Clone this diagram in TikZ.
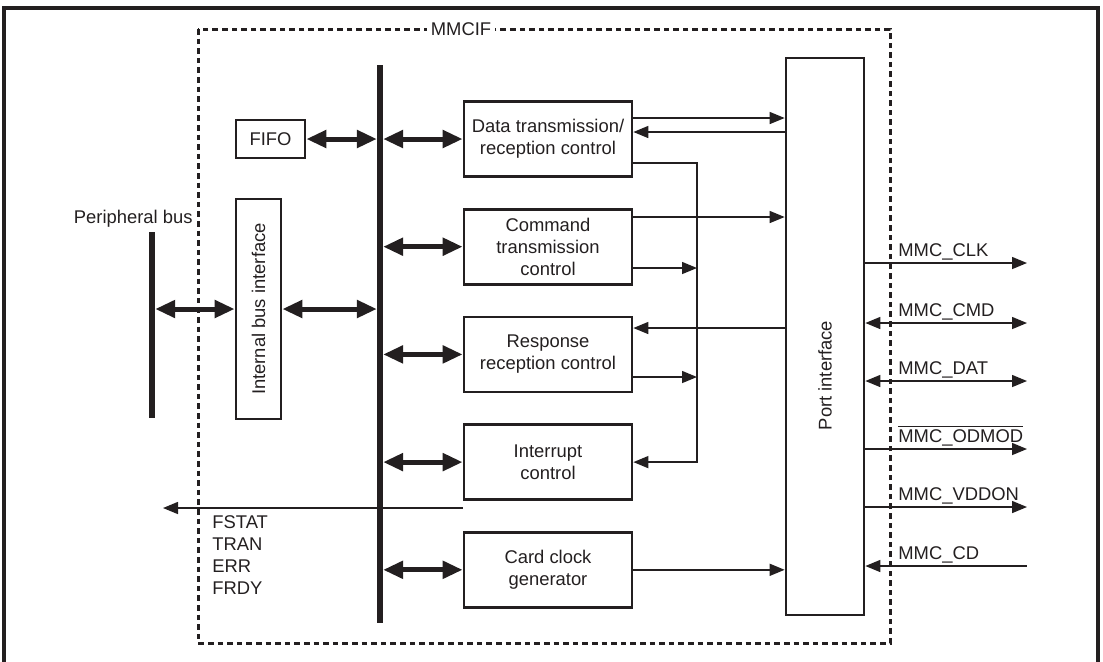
\documentclass[tikz,border=0pt]{standalone}
\usepackage{fontspec}
\setmainfont{Liberation Sans}
\usetikzlibrary{arrows.meta, positioning}
\definecolor{ink}{HTML}{231F20}

\begin{document}
\begin{tikzpicture}[
  x=0.5pt, y=-0.5pt,
  node distance=15pt,
  >={Triangle[length=7.5pt,width=6pt]},
  every node/.style={font=\fontsize{9.2pt}{11pt}\selectfont, text=ink},
  block/.style={rectangle, draw=ink, line width=1.35pt, minimum width=84pt,
    minimum height=37.5pt, align=center, inner sep=0pt},
  busbar/.style={rectangle, fill=ink, inner sep=0pt, minimum width=2.7pt},
  busarrow/.style={draw=ink, line width=2.5pt,
    {Triangle[length=10pt,width=8.5pt]}-{Triangle[length=10pt,width=8.5pt]}},
  sig/.style={draw=ink, line width=0.75pt, ->},
  sigout/.style={sig},
  sigboth/.style={sig, <->},
  sigin/.style={sig, <-},
  siglabel/.style={anchor=base west, inner sep=0pt}
]
  \useasboundingbox (0,0) rectangle (1103,661);
  \draw[ink, line width=1.7pt] (4,680) -- (4,8) -- (1098,8) -- (1098,680);
  \draw[ink, line width=1.5pt, dash pattern=on 2.8pt off 2pt]
    (198,29) rectangle (890,643);
  \node[fill=white, inner sep=2pt] (mmcif) at (461,29) {MMCIF};

  \node[busbar, minimum height=279pt] (ibus) at (380,344) {};
  \node[busbar, minimum height=93pt, minimum width=2.8pt] (pbus) at (152,325) {};
  \node[anchor=base east, inner sep=0pt] (pblabel) at (193,223) {Peripheral bus};

  \node[block, minimum width=34.5pt, minimum height=19pt] (fifo) at (270.5,139) {FIFO};
  \node[block, minimum width=22.5pt, minimum height=110pt] (ibi) at (258.5,309)
    {\rotatebox{90}{Internal bus interface}};

  \node[block] (data) at (548,139) {Data transmission/\\reception control};
  \node[block, below=of data] (cmd) {Command\\transmission\\control};
  \node[block, below=of cmd] (resp) {Response\\reception control};
  \node[block, below=of resp] (intr) {Interrupt\\control};
  \node[block, below=of intr] (card) {Card clock\\generator};

  \node[block, minimum width=39pt, minimum height=278.5pt] (port) at (825,336.5) {};
  \node[rotate=90] (porttxt) at ([yshift=-19.5pt]port.center) {Port interface};

  \draw[busarrow] (pbus.east |- ibi.west) -- (ibi.west);
  \draw[busarrow] (ibi.east) -- (ibus.west |- ibi.east);
  \draw[busarrow] (fifo.east) -- (ibus.west |- fifo.east);
  \foreach \blk in {data, cmd, resp, intr, card}
    \draw[busarrow] (ibus.east |- \blk.west) -- (\blk.west);

  \coordinate (trunk) at (697,300);
  \draw[sig] (data.east |- 0,118) -- (port.west |- 0,118);
  \draw[sig] (port.west |- 0,132) -- (data.east |- 0,132);
  \draw[sig] (data.east |- 0,163) -| (trunk) |- (intr.east);
  \draw[sig] (cmd.east |- 0,217) -- (port.west |- 0,217);
  \draw[sig] (cmd.east |- 0,268) -- (trunk |- 0,268);
  \draw[sig] (port.west |- 0,328) -- (resp.east |- 0,328);
  \draw[sig] (resp.east |- 0,377) -- (trunk |- 0,377);
  \draw[sig] (card.east) -- (port.west |- card.east);

  \coordinate (flagend) at (163,508);
  \draw[sig] (card.west |- flagend) -- (flagend);
  \node[anchor=north west, align=left, inner sep=0pt] (flags) at (212,515)
    {FSTAT\\TRAN\\ERR\\FRDY};

  \foreach \y/\txt/\kind [count=\i] in {263/MMC\_CLK/sigout, 323/MMC\_CMD/sigboth,
      381/MMC\_DAT/sigboth, 449/$\overline{\mbox{MMC\_ODMOD}}$/sigout,
      507/MMC\_VDDON/sigout, 566/MMC\_CD/sigin} {
    \coordinate (pin\i) at (1027,\y);
    \draw[\kind] (port.east |- pin\i) -- (pin\i);
    \node[siglabel] (lbl\i) at (898,\y-7) {\txt};
  }
\end{tikzpicture}
\end{document}
